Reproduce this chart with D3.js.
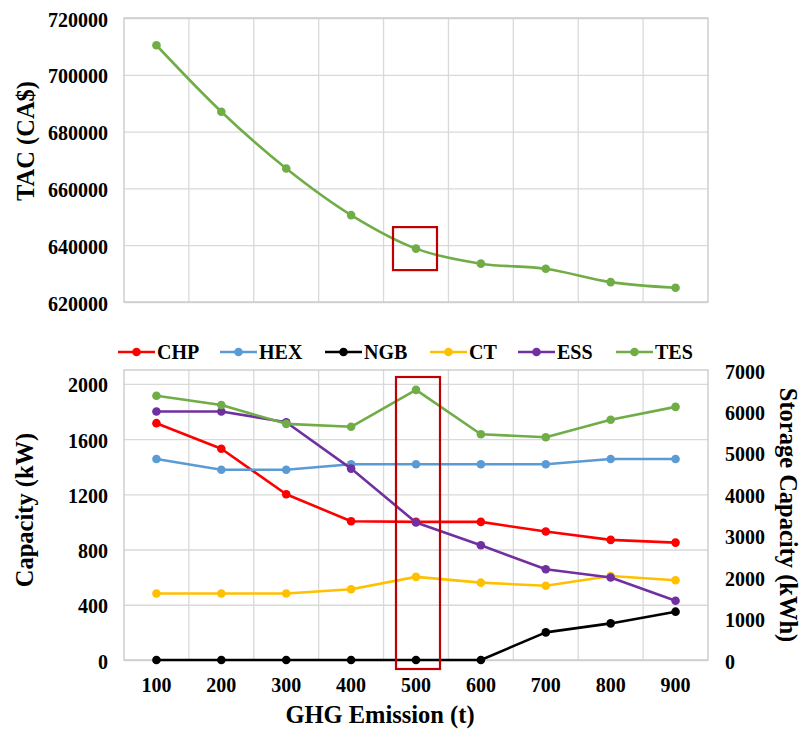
<!DOCTYPE html>
<html>
<head>
<meta charset="utf-8">
<script src="https://cdn.jsdelivr.net/npm/d3@7"></script>
<style>
  svg, svg text, svg g { font-family: "Liberation Serif", Tinos, "Times New Roman", serif; font-weight: bold; }
</style>
</head>
<body style="margin:0">
<svg id="chart" width="804" height="735" font-family="Liberation Serif"></svg>
<script>
// GHG emission limits (t)
const emissions = [100, 200, 300, 400, 500, 600, 700, 800, 900];

// Total annualized cost (CA$)
const tac = [710400, 687000, 667000, 650600, 638800, 633500, 631700, 627000, 625000];

// Installed capacities (kW)
const chp = [1715, 1530, 1200, 1005, 1000, 1000, 930, 870, 850];
const hex = [1455, 1378, 1378, 1418, 1418, 1418, 1418, 1455, 1455];
const ngb = [0, 0, 0, 0, 0, 0, 200, 265, 350];
const ct  = [482, 482, 482, 512, 602, 560, 538, 608, 578];

// Storage capacities (kWh)
const ess = [6000, 6000, 5740, 4620, 3320, 2770, 2190, 1990, 1430];
const tes = [6380, 6155, 5700, 5630, 6520, 5450, 5375, 5800, 6110];

// Axis ticks
const tacTicks = [620000, 640000, 660000, 680000, 700000, 720000];
const capTicks = [0, 400, 800, 1200, 1600, 2000];
const storTicks = [0, 1000, 2000, 3000, 4000, 5000, 6000, 7000];

const highlight = 500;

const series = [
  { name: "CHP", values: chp, color: "#ff0000", axis: "left" },
  { name: "HEX", values: hex, color: "#5b9bd5", axis: "left" },
  { name: "NGB", values: ngb, color: "#000000", axis: "left" },
  { name: "CT",  values: ct,  color: "#ffc000", axis: "left" },
  { name: "ESS", values: ess, color: "#7030a0", axis: "right" },
  { name: "TES", values: tes, color: "#70ad47", axis: "right" }
];

const svg = d3.select("#chart");
const gridColor = "#d9d9d9";
const borderColor = "#c8c8c8";
const boxColor = "#c00000";
const FONT_STACK = '"Liberation Serif", Tinos, "Times New Roman", serif';

const plotLeft = 124, plotRight = 708;
const x = d3.scaleBand().domain(emissions).range([plotLeft, plotRight]).padding(0);
const cx = v => x(v) + x.bandwidth() / 2;

function label(sel, size) {
  return sel.attr("font-family", "Liberation Serif")
    .style("font-family", FONT_STACK)
    .style("font-weight", "bold")
    .style("font-size", size + "px")
    .attr("fill", "#000");
}
function styleTicks(g) {
  g.select(".domain").remove();
  g.attr("font-family", "Liberation Serif").attr("font-size", null);
  label(g.selectAll("text"), 20).attr("dy", "0.4em");
}

// ---------- Upper panel: TAC ----------
const tacY = d3.scaleLinear().domain([620000, 720000]).range([302, 18]);
const upper = svg.append("g");

upper.append("g").attr("transform", `translate(${plotLeft},0)`)
  .call(d3.axisLeft(tacY).tickValues(tacTicks).tickSize(-(plotRight - plotLeft)).tickFormat(""))
  .call(g => g.select(".domain").remove())
  .call(g => g.selectAll("line").attr("stroke", gridColor).attr("stroke-width", 1.3));
upper.append("g").selectAll("line").data(emissions.slice(1)).join("line")
  .attr("x1", d => x(d)).attr("x2", d => x(d))
  .attr("y1", tacY.range()[1]).attr("y2", tacY.range()[0])
  .attr("stroke", gridColor).attr("stroke-width", 1.3);
upper.append("rect")
  .attr("x", plotLeft).attr("y", tacY.range()[1])
  .attr("width", plotRight - plotLeft).attr("height", tacY.range()[0] - tacY.range()[1])
  .attr("fill", "none").attr("stroke", borderColor).attr("stroke-width", 1.3);

upper.append("g").attr("transform", "translate(108,0)")
  .call(d3.axisLeft(tacY).tickValues(tacTicks).tickSize(0).tickPadding(0).tickFormat(d3.format("d")))
  .call(styleTicks);

label(upper.append("text"), 24.5)
  .attr("transform", "translate(34,141) rotate(-90)")
  .attr("text-anchor", "middle")
  .text("TAC (CA$)");

const tacData = emissions.map((e, i) => [e, tac[i]]);
upper.append("path").datum(tacData)
  .attr("fill", "none").attr("stroke", "#70ad47").attr("stroke-width", 2.6)
  .attr("d", d3.line().x(d => cx(d[0])).y(d => tacY(d[1])).curve(d3.curveCatmullRom.alpha(0.5)));
upper.append("g").selectAll("circle").data(tacData).join("circle")
  .attr("cx", d => cx(d[0])).attr("cy", d => tacY(d[1])).attr("r", 4.3).attr("fill", "#70ad47");

const hi = emissions.indexOf(highlight);
upper.append("rect")
  .attr("x", cx(highlight) - 23).attr("y", tacY(tac[hi]) - 21.5)
  .attr("width", 44).attr("height", 43)
  .attr("fill", "none").attr("stroke", boxColor).attr("stroke-width", 2.2);

// ---------- Lower panel: capacities ----------
const yL = d3.scaleLinear().domain([0, 2100]).range([660, 370]);
const yR = d3.scaleLinear().domain([0, 7000]).range([660, 370]);
const lower = svg.append("g");

lower.append("g").attr("transform", `translate(${plotLeft},0)`)
  .call(d3.axisLeft(yL).tickValues(capTicks).tickSize(-(plotRight - plotLeft)).tickFormat(""))
  .call(g => g.select(".domain").remove())
  .call(g => g.selectAll("line").attr("stroke", gridColor).attr("stroke-width", 1.3));
lower.append("g").selectAll("line").data(emissions.slice(1)).join("line")
  .attr("x1", d => x(d)).attr("x2", d => x(d))
  .attr("y1", 370).attr("y2", 660)
  .attr("stroke", gridColor).attr("stroke-width", 1.3);
lower.append("rect")
  .attr("x", plotLeft).attr("y", 370).attr("width", plotRight - plotLeft).attr("height", 290)
  .attr("fill", "none").attr("stroke", borderColor).attr("stroke-width", 1.3);

lower.append("g").attr("transform", "translate(108,0)")
  .call(d3.axisLeft(yL).tickValues(capTicks).tickSize(0).tickPadding(0).tickFormat(d3.format("d")))
  .call(styleTicks);
lower.append("g").attr("transform", "translate(725,0)")
  .call(d3.axisRight(yR).tickValues(storTicks).tickSize(0).tickPadding(0).tickFormat(d3.format("d")))
  .call(styleTicks);
lower.append("g").attr("transform", "translate(0,684)")
  .call(d3.axisBottom(x).tickSize(0).tickPadding(0))
  .call(styleTicks);

label(lower.append("text"), 24.5)
  .attr("transform", "translate(33,510) rotate(-90)")
  .attr("text-anchor", "middle")
  .text("Capacity (kW)");
label(lower.append("text"), 24.5)
  .attr("transform", "translate(780,515) rotate(90)")
  .attr("text-anchor", "middle")
  .text("Storage Capacity (kWh)");
label(lower.append("text"), 24.5)
  .attr("x", 380).attr("y", 723)
  .attr("text-anchor", "middle")
  .text("GHG Emission (t)");

series.forEach(s => {
  const yy = s.axis === "left" ? yL : yR;
  const data = emissions.map((e, i) => [e, s.values[i]]);
  const g = lower.append("g");
  g.append("path").datum(data)
    .attr("fill", "none").attr("stroke", s.color).attr("stroke-width", 2.6)
    .attr("stroke-linejoin", "round")
    .attr("d", d3.line().x(d => cx(d[0])).y(d => yy(d[1])));
  g.selectAll("circle").data(data).join("circle")
    .attr("cx", d => cx(d[0])).attr("cy", d => yy(d[1])).attr("r", 4.3).attr("fill", s.color);
});

lower.append("rect")
  .attr("x", cx(highlight) - 20).attr("y", 377)
  .attr("width", 44).attr("height", 292)
  .attr("fill", "none").attr("stroke", boxColor).attr("stroke-width", 2.2);

// ---------- Legend ----------
const legendX = [118, 220, 325, 430, 518, 616];
const legend = svg.append("g");
series.forEach((s, i) => {
  const g = legend.append("g").attr("transform", `translate(${legendX[i]},352)`);
  g.append("line").attr("x1", 0).attr("x2", 37).attr("y1", 0).attr("y2", 0)
    .attr("stroke", s.color).attr("stroke-width", 2.6);
  g.append("circle").attr("cx", 18.5).attr("cy", 0).attr("r", 4.3).attr("fill", s.color);
  label(g.append("text"), 20).attr("x", 39).attr("y", 0).attr("dy", "0.36em").text(s.name);
});
</script>
</body>
</html>
